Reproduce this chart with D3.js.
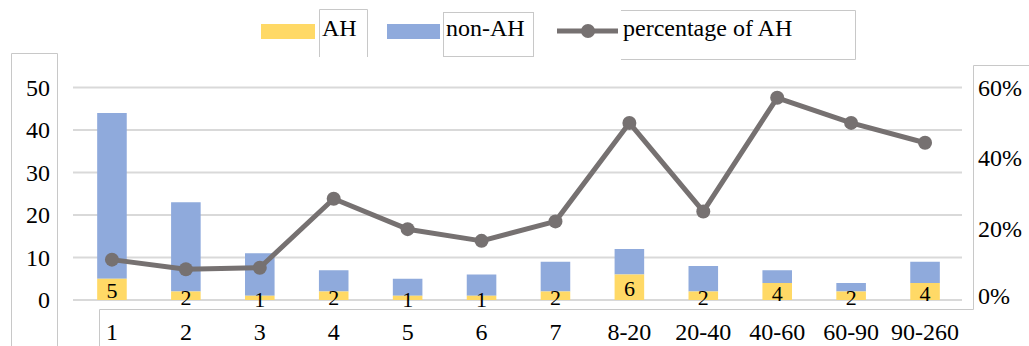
<!DOCTYPE html>
<html><head><meta charset="utf-8">
<script src="https://cdn.jsdelivr.net/npm/d3@7"></script>
<style>body{margin:0;background:#fff}svg{display:block}</style>
</head><body><svg id="c" width="1029" height="346"></svg>
<script>
const categories = ["1","2","3","4","5","6","7","8-20","20-40","40-60","60-90","90-260"];
const ahValues = [5,2,1,2,1,1,2,6,2,4,2,4];
const nonAhValues = [39,21,10,5,4,5,7,6,6,3,2,5];
const percentAH = [11.4,8.7,9.1,28.6,20,16.7,22.2,50,25,57.1,50,44.4];
const leftTicks = [0,10,20,30,40,50];
const rightTicks = [0,20,40,60];
const seriesNames = ["AH","non-AH","percentage of AH"];

const FONT = "'Liberation Serif', 'Times New Roman', Times, 'DejaVu Serif', serif";
const svg = d3.select("#c").attr("font-family", FONT);
const x = d3.scaleBand().domain(categories).range([75,962]).paddingInner(0.6).paddingOuter(0.3);
const y = d3.scaleLinear().domain([0,50]).range([300,87.5]);
const yp = d3.scaleLinear().domain([0,60]).range([300,87.5]);
const cYellow = "#FFD966", cBlue = "#8FAADC", cLine = "#767171", cGrid = "#D9D9D9", cFrame = "#C8C8C8";

function txt(sel){ return sel.attr("font-family", FONT).attr("fill","#000"); }

// gridlines
svg.append("g").selectAll("line").data(leftTicks).join("line")
  .attr("x1",73).attr("x2",962).attr("y1",d=>y(d)).attr("y2",d=>y(d))
  .attr("stroke",cGrid).attr("stroke-width",2);

// frames (text-box borders)
const fr = svg.append("g").attr("stroke",cFrame).attr("stroke-width",1).attr("fill","none");
fr.append("path").attr("d","M11.5,346V53.5H57.5V346");
fr.append("path").attr("d","M99.5,346V309.5H973.5");
fr.append("path").attr("d","M973.5,309.5V65.5H1029");
fr.append("path").attr("d","M319.5,57V9.5H367.5V57");
fr.append("rect").attr("x",443.5).attr("y",12.5).attr("width",90).attr("height",44);
fr.append("path").attr("d","M621,10.5H855.5V59.5H621");

// bars
const data = categories.map((c,i)=>({c, ah:ahValues[i], non:nonAhValues[i], p:percentAH[i]}));
const bw = x.bandwidth();
svg.append("g").selectAll("rect").data(data).join("rect")
  .attr("x",d=>x(d.c)).attr("width",bw)
  .attr("y",d=>y(d.ah+d.non)).attr("height",d=>y(d.ah)-y(d.ah+d.non)).attr("fill",cBlue);
svg.append("g").selectAll("rect").data(data).join("rect")
  .attr("x",d=>x(d.c)).attr("width",bw)
  .attr("y",d=>y(d.ah)).attr("height",d=>y(0)-y(d.ah)).attr("fill",cYellow);

// data labels
svg.append("g").selectAll("text").data(data).join("text").call(txt)
  .attr("x",d=>x(d.c)+bw/2).attr("y",d=>(y(0)+y(d.ah))/2+9)
  .attr("text-anchor","middle").attr("font-size",22).text(d=>d.ah);

// line
const line = d3.line().x(d=>x(d.c)+bw/2).y(d=>yp(d.p));
svg.append("path").datum(data).attr("d",line).attr("fill","none")
  .attr("stroke",cLine).attr("stroke-width",5).attr("stroke-linejoin","round");
svg.append("g").selectAll("circle").data(data).join("circle")
  .attr("cx",d=>x(d.c)+bw/2).attr("cy",d=>yp(d.p)).attr("r",7).attr("fill",cLine);

// left axis labels
svg.append("g").selectAll("text").data(leftTicks).join("text").call(txt)
  .attr("x",50).attr("y",d=>y(d)+8).attr("text-anchor","end").attr("font-size",24).text(d=>d);
// right axis labels
svg.append("g").selectAll("text").data(rightTicks).join("text").call(txt)
  .attr("x",978).attr("y",d=>Math.min(yp(d)+8,304)).attr("font-size",24).text(d=>d+"%");
// x labels
svg.append("g").selectAll("text").data(categories).join("text").call(txt)
  .attr("x",d=>x(d)+bw/2).attr("y",340).attr("text-anchor","middle").attr("font-size",24).text(d=>d);

// legend
const lg = svg.append("g");
lg.append("rect").attr("x",261).attr("y",24).attr("width",54).attr("height",15).attr("fill",cYellow);
lg.append("text").call(txt).attr("x",322).attr("y",36).attr("font-size",24).text(seriesNames[0]);
lg.append("rect").attr("x",387).attr("y",24).attr("width",53).attr("height",15).attr("fill",cBlue);
lg.append("text").call(txt).attr("x",446).attr("y",36).attr("font-size",24).text(seriesNames[1]);
lg.append("line").attr("x1",557).attr("x2",618).attr("y1",31).attr("y2",31).attr("stroke",cLine).attr("stroke-width",5);
lg.append("circle").attr("cx",588).attr("cy",31).attr("r",7).attr("fill",cLine);
lg.append("text").call(txt).attr("x",623).attr("y",36).attr("font-size",24).text(seriesNames[2]);
</script></body></html>
